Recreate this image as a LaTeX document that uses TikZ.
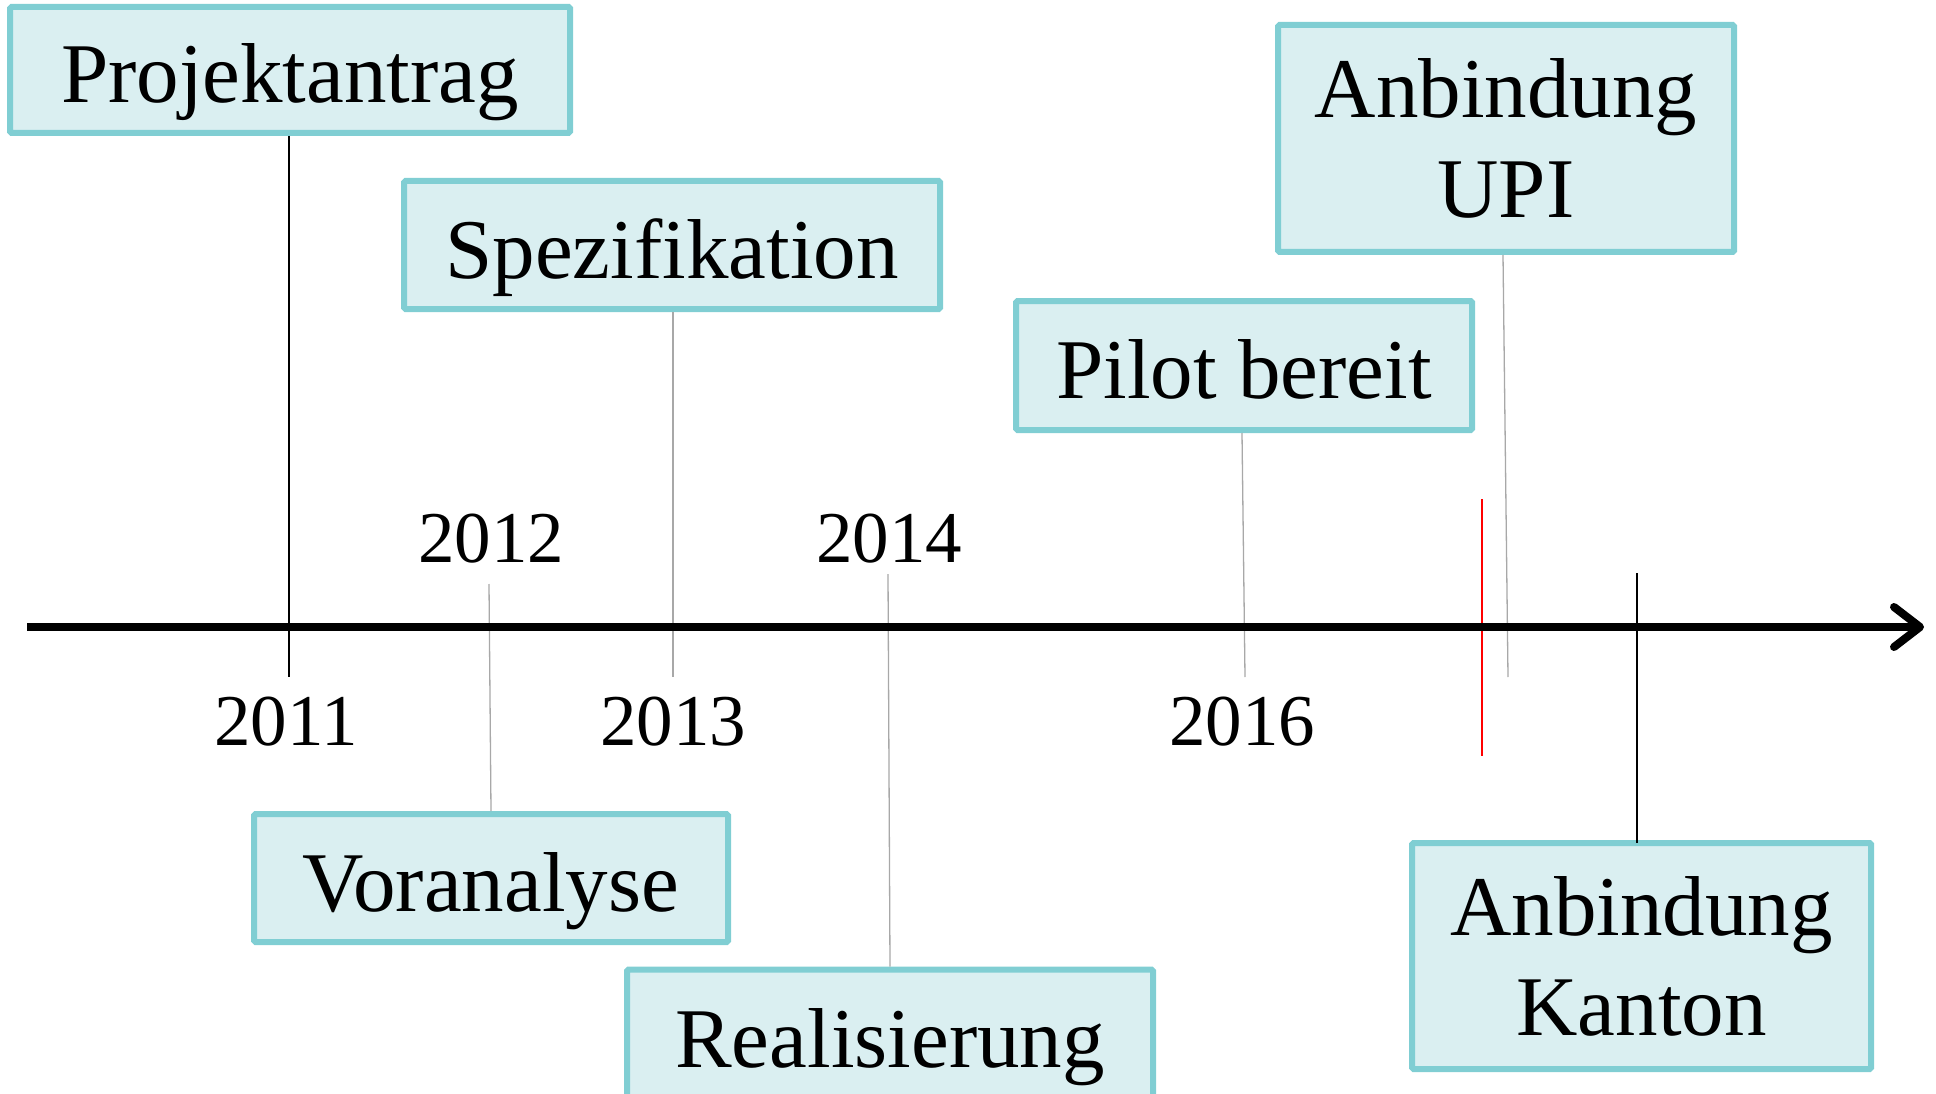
\documentclass[tikz,border=0pt]{standalone}
\usepackage{fontspec}
\setmainfont{Liberation Serif}
\usetikzlibrary{arrows.meta}
\definecolor{boxfill}{HTML}{DAEFF1}
\definecolor{boxline}{HTML}{80CED3}
\definecolor{connline}{HTML}{A8A8A8}
\tikzset{
  boxbase/.style={draw=boxline, fill=boxfill, line width=6pt, rounded corners=1.5pt,
    inner sep=0pt, font=\fontsize{85}{100}\selectfont},
  oneline/.style={boxbase, text height=66pt, text depth=0pt},
  twoline/.style={boxbase, align=center},
  year/.style={anchor=base, inner sep=0pt, font=\fontsize{73}{80}\selectfont},
  blackconn/.style={draw=black, line width=1.3pt},
  grayconn/.style={draw=connline, line width=1.3pt},
  redconn/.style={draw=red, line width=1.1pt},
}
\begin{document}
\begin{tikzpicture}[x=1pt,y=-1pt]
\useasboundingbox (0,0) rectangle (1936,1094);
\begin{scope}
\clip (0,0) rectangle (1936,1094);
% axis
\coordinate (axL) at (27,627);
\coordinate (axR) at (1924,627);
% connector ends
\coordinate (pE) at (289,677);
\coordinate (sE) at (673,677);
\coordinate (bE) at (1245,677);
\coordinate (uE) at (1508,677);
\coordinate (vS) at (489,584);
\coordinate (rS) at (888,574);
\coordinate (kS) at (1637,573);
\coordinate (kE) at (1637,843);
\coordinate (redT) at (1482,499);
\coordinate (redB) at (1482,756);

% boxes
\node[oneline, minimum width=560pt, minimum height=126pt] (proj) at (290,70) {Projektantrag};
\node[oneline, minimum width=536pt, minimum height=128pt] (spez) at (672,245) {Spezifikation};
\node[oneline, minimum width=456pt, minimum height=129pt] (pilot) at (1244,365.5) {Pilot bereit};
\node[twoline, minimum width=456pt, minimum height=227pt] (upi) at (1506,138.5) {Anbindung\\UPI};
\node[oneline, minimum width=474pt, minimum height=128pt] (vor) at (491,878) {Voranalyse};
\node[oneline, minimum width=526pt, minimum height=129pt] (real) at (890,1034) {Realisierung};
\node[twoline, minimum width=459pt, minimum height=226pt] (kan) at (1641.5,956) {Anbindung\\Kanton};

\draw[blackconn] (proj.south -| pE) -- (pE);
\draw[grayconn] (spez.south -| sE) -- (sE);
\draw[grayconn] (pilot.south -| 1242,0) -- (bE);
\draw[grayconn] (upi.south -| 1503,0) -- (uE);
\draw[grayconn] (vS) -- (vor.north -| 491,0);
\draw[grayconn] (rS) -- (real.north -| 890,0);
\draw[blackconn] (kS) -- (kE);
\draw[redconn] (redT) -- (redB);

\draw[line width=8pt, -{Straight Barb[length=26pt,width=40pt,round]}] (axL) -- (axR);

% years
\node[year] (y11) at (286,745) {2011};
\node[year] (y12) at (491,562) {2012};
\node[year] (y13) at (673,745) {2013};
\node[year] (y14) at (889,562) {2014};
\node[year] (y16) at (1242,745) {2016};
\end{scope}
\end{tikzpicture}
\end{document}
